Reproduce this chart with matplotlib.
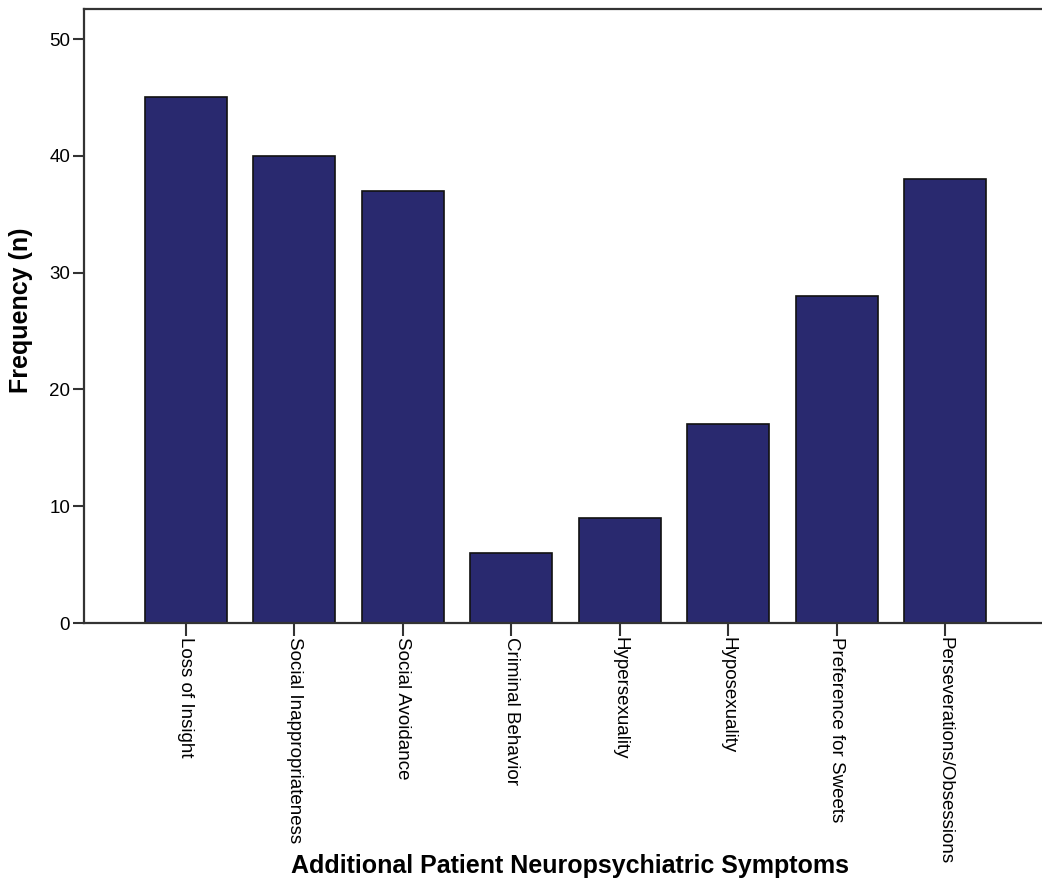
import matplotlib
matplotlib.use("Agg")
import matplotlib.pyplot as plt

categories = ["Loss of Insight", "Social Inappropriateness", "Social Avoidance",
              "Criminal Behavior", "Hypersexuality", "Hyposexuality",
              "Preference for Sweets", "Perseverations/Obsessions"]
values = [45, 40, 37, 6, 9, 17, 28, 38]
yticks = [0, 10, 20, 30, 40, 50]

plt.rcParams['font.family'] = ['Liberation Sans', 'DejaVu Sans']

fig = plt.figure(figsize=(10.42, 8.84), dpi=100)
ax = fig.add_axes([84/1042, (884-623)/884, (1047-84)/1042, (623-9)/884])

x = list(range(len(categories)))
ax.bar(x, values, width=0.757, color='#29296f', edgecolor='#111111', linewidth=1.2, zorder=2)

ax.set_xlim(-0.94, len(categories) - 1 + 0.94)
ax.set_ylim(0, 52.57)
ax.set_yticks(yticks)
ax.set_xticks(x)
ax.set_xticklabels(categories, rotation=270, ha='center', va='top', fontsize=13.5)
ax.tick_params(axis='y', labelsize=13.5, length=8, width=1.5, color='#333333', pad=2)
ax.tick_params(axis='x', length=9, width=1.5, color='#333333', pad=1)

for s in ['left', 'top', 'bottom']:
    ax.spines[s].set_color('#333333')
    ax.spines[s].set_linewidth(1.6)
ax.spines['right'].set_visible(False)

ax.set_ylabel("Frequency (n)", fontsize=18, fontweight='bold')
ax.yaxis.set_label_coords(-0.053, 0.51)
ax.set_xlabel("Additional Patient Neuropsychiatric Symptoms", fontsize=18, fontweight='bold')
ax.xaxis.set_label_coords(0.5047, -0.376)

fig.savefig("out.png", dpi=100, facecolor='white')
